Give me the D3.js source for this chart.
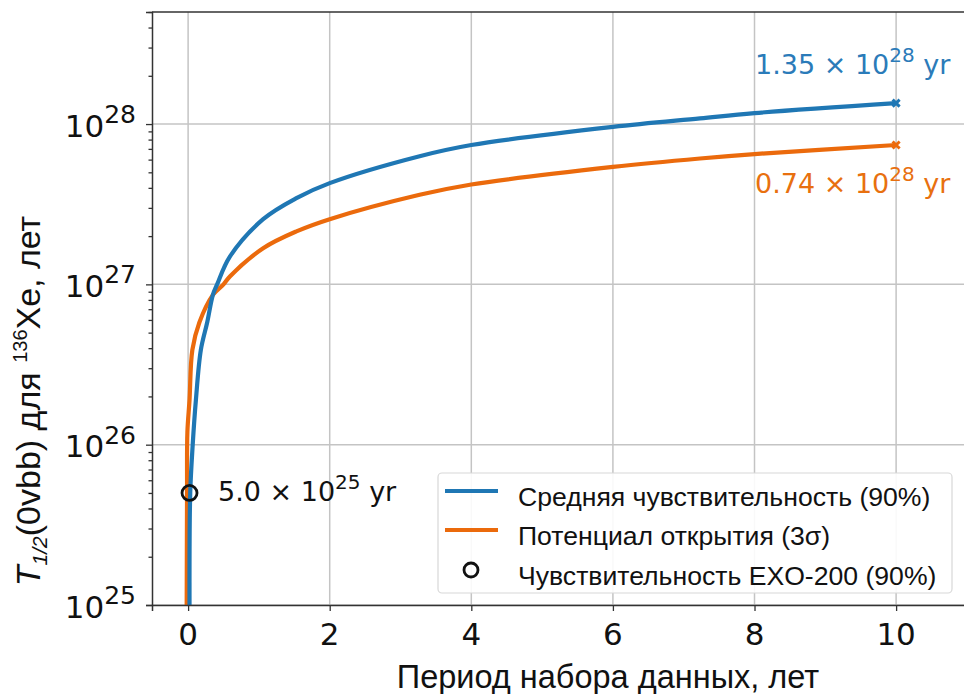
<!DOCTYPE html>
<html>
<head>
<meta charset="utf-8">
<script src="https://cdn.jsdelivr.net/npm/d3@7"></script>
<style>
  body { margin: 0; background: #fff; }
  svg { display: block; }
</style>
</head>
<body>
<svg width="964" height="694"></svg>
<script>
// data
var sens_t = [0.02, 0.03, 0.065, 0.11, 0.18, 0.27, 0.35, 0.41, 0.59, 1.06, 1.53, 2, 3.27, 4, 6, 7.23, 8, 10];
var sens_v = [1e25, 5e25, 1e26, 1.9e26, 3.9e26, 5.8e26, 8.6e26, 1e27, 1.49e27, 2.55e27, 3.45e27, 4.28e27, 6.3e27, 7.4e27, 9.6e27, 1.085e28, 1.17e28, 1.35e28];
var disc_t = [-0.02, -0.015, -0.01, 0.02, 0.06, 0.16, 0.35, 0.5, 0.59, 1.06, 1.53, 2, 3.27, 4, 6, 7.23, 8, 10];
var disc_v = [1e25, 5e25, 1.2e26, 1.9e26, 3.9e26, 5.8e26, 8.6e26, 1e27, 1.12e27, 1.68e27, 2.14e27, 2.55e27, 3.62e27, 4.2e27, 5.4e27, 6.1e27, 6.5e27, 7.4e27];
var exo_point = [0.02, 5e25];
var x_ticks = [0, 2, 4, 6, 8, 10];
var y_majors = [1e25, 1e26, 1e27, 1e28];
var legend_labels = ["Средняя чувствительность (90%)", "Потенциал открытия (3σ)", "Чувствительность EXO-200 (90%)"];

var blue = "#1f77b4", orange = "#eb6a0c";
var blueText = "#2b7bb9", orangeText = "#e8700f";

var svg = d3.select("svg"),
    width = +svg.attr("width"),
    height = +svg.attr("height");

var plotLeft = 152, plotTop = 12, plotBottom = 605;

var x = d3.scaleLinear().domain([-0.51, 11.2]).range([plotLeft, plotLeft + 11.71 * 70.8]);
var y = d3.scaleLog().domain([1e25, 5e28]).range([plotBottom, plotTop]);

var minors = [];
y_majors.forEach(function(d) {
  for (var k = 2; k <= 9; k++) if (d * k <= 5e28) minors.push(d * k);
});

svg.append("defs").append("clipPath").attr("id", "clip")
  .append("rect").attr("x", plotLeft).attr("y", plotTop)
  .attr("width", width - plotLeft).attr("height", plotBottom - plotTop);

// grid
var grid = svg.append("g");
grid.selectAll(".vg").data(x_ticks).enter().append("line")
  .attr("x1", function(d) { return x(d); }).attr("x2", function(d) { return x(d); })
  .attr("y1", plotTop).attr("y2", plotBottom)
  .attr("stroke", "#c4c4c4").attr("stroke-width", 1.5);
grid.selectAll(".hg").data(y_majors).enter().append("line")
  .attr("x1", plotLeft).attr("x2", width)
  .attr("y1", function(d) { return y(d); }).attr("y2", function(d) { return y(d); })
  .attr("stroke", "#c4c4c4").attr("stroke-width", 1.5);

// curves
var line = d3.line()
  .x(function(d) { return x(d[0]); })
  .y(function(d) { return y(d[1]); })
  .curve(d3.curveCatmullRom.alpha(0.5));

var plot = svg.append("g").attr("clip-path", "url(#clip)");
plot.append("path").datum(d3.zip(disc_t, disc_v))
  .attr("d", line).attr("fill", "none").attr("stroke", orange).attr("stroke-width", 4.2);
plot.append("path").datum(d3.zip(sens_t, sens_v))
  .attr("d", line).attr("fill", "none").attr("stroke", blue).attr("stroke-width", 4.2);

function xmark(cx, cy, col) {
  var s = 3.5;
  svg.append("path")
    .attr("d", "M" + (cx - s) + "," + (cy - s) + "L" + (cx + s) + "," + (cy + s) +
               "M" + (cx - s) + "," + (cy + s) + "L" + (cx + s) + "," + (cy - s))
    .attr("stroke", col).attr("stroke-width", 3);
}
xmark(x(10), y(sens_v[sens_v.length - 1]), blue);
xmark(x(10), y(disc_v[disc_v.length - 1]), orange);

// EXO-200 point
svg.append("circle")
  .attr("cx", x(exo_point[0])).attr("cy", y(exo_point[1])).attr("r", 7.5)
  .attr("fill", "none").attr("stroke", "#111").attr("stroke-width", 2.8);

// axes
var yAxis = svg.append("g").attr("transform", "translate(" + plotLeft + ",0)")
  .call(d3.axisLeft(y).tickValues(y_majors).tickSize(6).tickFormat(""));
var yMinor = svg.append("g").attr("transform", "translate(" + plotLeft + ",0)")
  .call(d3.axisLeft(y).tickValues(minors).tickSize(3.5).tickFormat(""));
yMinor.select(".domain").remove();
var xAxis = svg.append("g").attr("transform", "translate(0," + plotBottom + ")")
  .call(d3.axisBottom(x).tickValues(x_ticks).tickSize(6).tickFormat(""));
[yAxis, yMinor, xAxis].forEach(function(g) {
  g.selectAll("line").attr("stroke", "#333").attr("stroke-width", 1.3);
  g.select(".domain").attr("stroke", "#333").attr("stroke-width", 1.5);
});
svg.append("line").attr("x1", plotLeft).attr("x2", width).attr("y1", plotTop).attr("y2", plotTop)
  .attr("stroke", "#333").attr("stroke-width", 1.5);

// tick labels
var mathFont = "'DejaVu Sans', sans-serif";
svg.selectAll(".ylab").data(y_majors).enter().append("text")
  .attr("x", 136).attr("y", function(d) { return y(d) + 12.5; })
  .attr("text-anchor", "end")
  .style("font-family", mathFont).style("font-size", "31px").attr("fill", "#111")
  .each(function(d) {
    var t = d3.select(this);
    t.append("tspan").text("10");
    t.append("tspan").attr("dy", -13.5).style("font-size", "25px").text(Math.round(Math.log10(d)));
  });

svg.selectAll(".xlab").data(x_ticks).enter().append("text")
  .attr("x", function(d) { return x(d); }).attr("y", 645)
  .attr("text-anchor", "middle")
  .style("font-family", mathFont).style("font-size", "31px").attr("fill", "#111")
  .text(function(d) { return d; });

// axis titles
var sans = "Arial, 'Liberation Sans', sans-serif";
svg.append("text").attr("x", 608).attr("y", 688).attr("text-anchor", "middle")
  .style("font-family", sans).style("font-size", "32.5px").attr("fill", "#111")
  .text("Период набора данных, лет");

var yt = svg.append("text").attr("transform", "translate(40,401) rotate(-90)")
  .attr("text-anchor", "middle")
  .style("font-family", sans).style("font-size", "34px").attr("fill", "#111");
yt.append("tspan").style("font-style", "italic").text("T");
yt.append("tspan").style("font-style", "italic").style("font-size", "21px").attr("dy", 7).text("1/2");
yt.append("tspan").attr("dy", -7).text("(0vbb) для ");
yt.append("tspan").style("font-size", "20px").attr("dy", -13).text("136");
yt.append("tspan").attr("dy", 13).text("Xe, лет");

// annotations
function powerText(px, py, mant, exp, col) {
  var t = svg.append("text").attr("x", px).attr("y", py)
    .style("font-family", mathFont).style("font-size", "27px").attr("fill", col);
  t.append("tspan").text(mant + " × 10");
  t.append("tspan").attr("dy", -12).style("font-size", "20px").text(exp);
  t.append("tspan").attr("dy", 12).text(" yr");
}
powerText(218, 501, "5.0", "25", "#111");
powerText(755, 74, "1.35", "28", blueText);
powerText(755, 193, "0.74", "28", orangeText);

// legend
var lg = svg.append("g");
lg.append("rect").attr("x", 438).attr("y", 473).attr("width", 514).attr("height", 120).attr("rx", 4)
  .attr("fill", "#fff").attr("fill-opacity", 0.9).attr("stroke", "#d8d8d8").attr("stroke-width", 1.2);
var rowY = [491, 530, 570];
lg.append("line").attr("x1", 445).attr("x2", 498).attr("y1", rowY[0]).attr("y2", rowY[0])
  .attr("stroke", blue).attr("stroke-width", 4);
lg.append("line").attr("x1", 445).attr("x2", 498).attr("y1", rowY[1]).attr("y2", rowY[1])
  .attr("stroke", orange).attr("stroke-width", 4);
lg.append("circle").attr("cx", 471).attr("cy", rowY[2]).attr("r", 7)
  .attr("fill", "none").attr("stroke", "#111").attr("stroke-width", 2.8);
lg.selectAll(".lt").data(legend_labels).enter().append("text")
  .attr("x", 518).attr("y", function(d, i) { return rowY[i] + 15; })
  .style("font-family", sans).style("font-size", "26.6px").attr("fill", "#111")
  .text(function(d) { return d; });
</script>
</body>
</html>
